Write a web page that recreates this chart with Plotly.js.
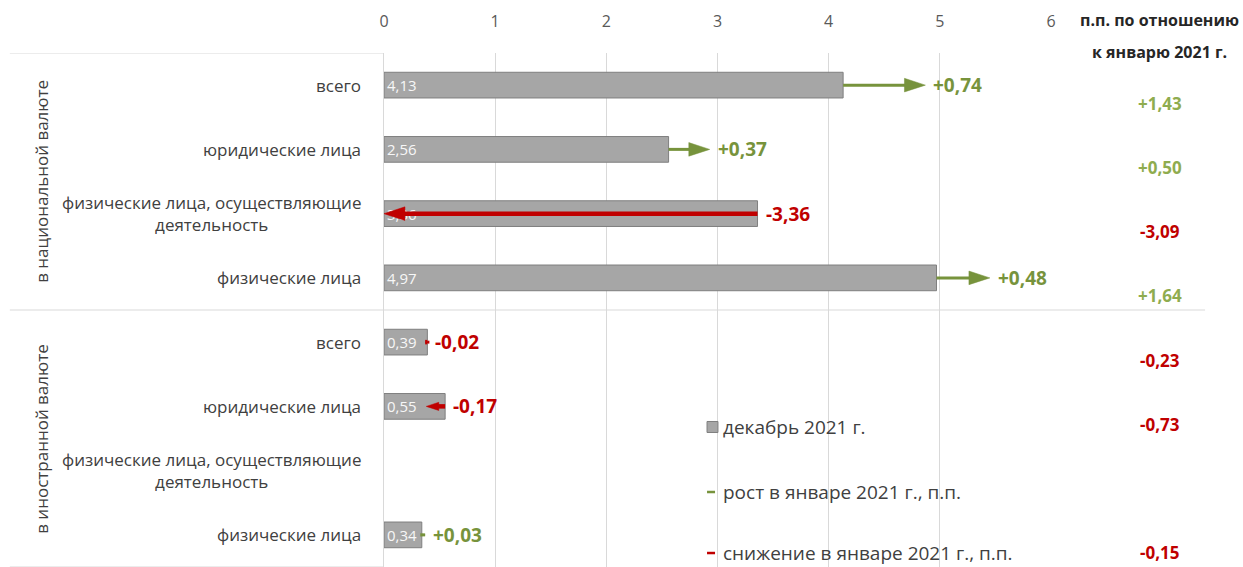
<!DOCTYPE html>
<html>
<head>
<meta charset="utf-8">
<script src="https://cdn.plot.ly/plotly-3.0.1.min.js"></script>
<style>html,body{margin:0;padding:0;background:#fff;}#chart{width:1243px;height:567px;}</style>
</head>
<body>
<div id="chart"></div>
<script>
const categories = ['всего', 'юридические лица', 'физические лица, осуществляющие<br>деятельность', 'физические лица',
                    'всего', 'юридические лица', 'физические лица, осуществляющие<br>деятельность', 'физические лица'];
const groups = ['в национальной валюте', 'в иностранной валюте'];
const groupCenters = [1.5, 5.5];
const dec2021 = [4.13, 2.56, 3.36, 4.97, 0.39, 0.55, null, 0.34];
const janChange = [0.74, 0.37, -3.36, 0.48, -0.02, -0.17, null, 0.03];
const vsJan2021 = [1.43, 0.50, -3.09, 1.64, -0.23, -0.73, null, -0.15];
const xTicks = [0, 1, 2, 3, 4, 5, 6];
const legendLabels = ['декабрь 2021 г.', 'рост в январе 2021 г., п.п.', 'снижение в январе 2021 г., п.п.'];
const headerLines = ['п.п. по отношению', 'к январю 2021 г.'];

const FONT = 'Open Sans, Noto Sans, sans-serif';
const GREEN = '#77933c', GREEN_LIGHT = '#8fac4f', RED = '#c00000', TXT = '#404040', GRID = '#d9d9d9';

function fmt(v, sign) {
  const s = Math.abs(v).toFixed(2).replace('.', ',');
  if (v < 0) return '-' + s;
  return (sign ? '+' : '') + s;
}

const yIdx = categories.map((_, i) => i);
const traces = [];

traces.push({
  type: 'bar', orientation: 'h',
  y: yIdx, x: dec2021, width: 0.4,
  marker: {color: '#a6a6a6', line: {color: '#7f7f7f', width: 1}},
  text: dec2021.map(v => v == null ? '' : fmt(v, false)),
  textposition: 'inside', insidetextanchor: 'start', constraintext: 'none',
  textfont: {color: '#f7f7f7', size: 15, family: FONT},
  hoverinfo: 'skip', showlegend: false
});

// change arrows: line from December value to December value + change, arrow marker at the head
janChange.forEach((d, i) => {
  if (d == null || dec2021[i] == null) return;
  const base = dec2021[i], end = base + d;
  const col = d >= 0 ? GREEN : RED;
  const headSize = Math.min(22, 3 + Math.abs(d) * 60);
  traces.push({
    type: 'scatter', mode: 'lines+markers',
    x: [base, end], y: [i, i],
    line: {color: col, width: d >= 0 ? 3 : 4.5},
    marker: {symbol: ['circle', 'arrow'], size: [0, headSize], color: col, opacity: 1, angleref: 'previous',
      line: {width: 0.5, color: col}},
    cliponaxis: false, hoverinfo: 'skip', showlegend: false
  });
});

const annotations = [];
const shapes = [];

categories.forEach((c, i) => {
  annotations.push({xref: 'paper', yref: 'y', x: 0, y: i, xshift: -21, xanchor: 'right', yanchor: 'middle',
    align: 'center', text: c, showarrow: false, font: {size: 17, color: TXT, family: FONT}});
});
groups.forEach((g, k) => {
  annotations.push({xref: 'paper', yref: 'y', x: -0.534, y: groupCenters[k], textangle: -90,
    text: g, showarrow: false, font: {size: 17, color: TXT, family: FONT}});
});
janChange.forEach((d, i) => {
  if (d == null || dec2021[i] == null) return;
  const base = dec2021[i], end = base + d;
  const col = d >= 0 ? GREEN : RED;
  annotations.push({xref: 'x', yref: 'y', x: d >= 0 ? end : base, y: i, xshift: 6, xanchor: 'left', yanchor: 'middle',
    text: '<b>' + fmt(d, true) + '</b>', showarrow: false, font: {size: 19, color: col, family: FONT}});
});
headerLines.forEach((h, k) => {
  annotations.push({xref: 'paper', yref: 'paper', x: 1.1634, y: 1, yshift: k === 0 ? 33 : 1,
    xanchor: 'center', yanchor: 'middle', text: '<b>' + h + '</b>', showarrow: false,
    font: {size: 16, color: '#262626', family: FONT}});
});
vsJan2021.forEach((v, i) => {
  if (v == null) return;
  annotations.push({xref: 'paper', yref: 'y', x: 1.1634, y: i, yshift: -18, xanchor: 'center', yanchor: 'middle',
    text: '<b>' + fmt(v, true) + '</b>', showarrow: false,
    font: {size: 17, color: v >= 0 ? GREEN_LIGHT : RED, family: FONT}});
});
shapes.push({type: 'line', xref: 'paper', yref: 'y', x0: -0.561, x1: 0, y0: -0.5, y1: -0.5, line: {color: GRID, width: 1}});
shapes.push({type: 'line', xref: 'paper', yref: 'y', x0: -0.561, x1: 1.231, y0: 3.5, y1: 3.5, line: {color: GRID, width: 1}});
shapes.push({type: 'line', xref: 'paper', yref: 'y', x0: -0.561, x1: 0, y0: 7.5, y1: 7.5, line: {color: GRID, width: 1}});
const legY = [0.2724, 0.1459, 0.0272];
shapes.push({type: 'rect', xref: 'paper', yref: 'paper', x0: 0.4843, x1: 0.5007, y0: legY[0] - 0.0107, y1: legY[0] + 0.0107,
  fillcolor: '#a6a6a6', line: {color: '#7f7f7f', width: 1}});
shapes.push({type: 'line', xref: 'paper', yref: 'paper', x0: 0.4843, x1: 0.4963, y0: legY[1], y1: legY[1], line: {color: GREEN, width: 2.5}});
shapes.push({type: 'line', xref: 'paper', yref: 'paper', x0: 0.4843, x1: 0.4963, y0: legY[2], y1: legY[2], line: {color: RED, width: 2.5}});
legendLabels.forEach((t, k) => {
  annotations.push({xref: 'paper', yref: 'paper', x: 0.5052, y: legY[k], xanchor: 'left', yanchor: 'middle',
    text: t, showarrow: false, font: {size: 19, color: TXT, family: FONT}});
});

const layout = {
  width: 1243, height: 567,
  margin: {l: 384, r: 192, t: 53, b: 0, pad: 0},
  paper_bgcolor: '#fff', plot_bgcolor: '#fff',
  separators: ', ',
  font: {family: FONT, color: TXT},
  showlegend: false,
  xaxis: {side: 'top', range: [0, 6], tickvals: xTicks, ticktext: xTicks.map(String),
    showgrid: true, gridcolor: GRID, gridwidth: 1, zeroline: false, showline: false,
    ticks: '', ticklabelstandoff: 22, tickfont: {size: 16, color: '#595959', family: FONT}, fixedrange: true},
  yaxis: {range: [7.5, -0.5], showticklabels: false, showgrid: false, zeroline: false,
    showline: true, linecolor: GRID, linewidth: 1, ticks: '', fixedrange: true},
  annotations: annotations,
  shapes: shapes
};

Plotly.newPlot('chart', traces, layout, {displayModeBar: false, staticPlot: true});
</script>
</body>
</html>
